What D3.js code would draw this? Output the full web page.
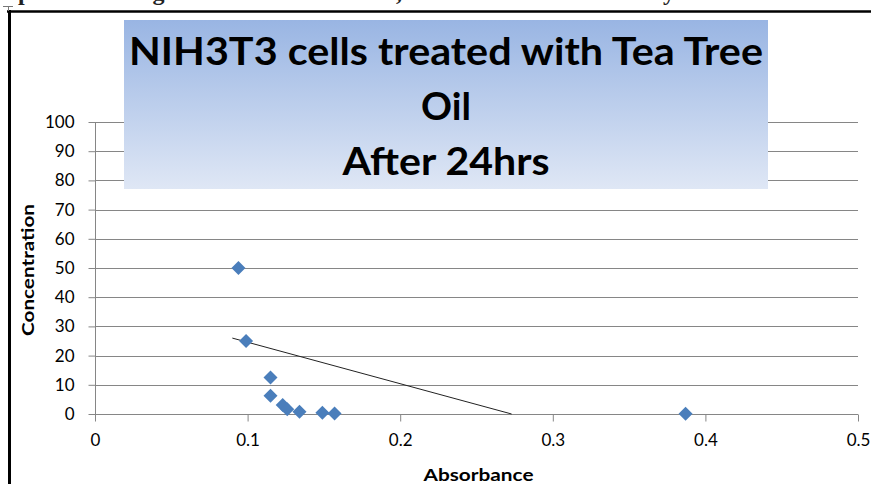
<!DOCTYPE html>
<html><head><meta charset="utf-8">
<script src="https://cdn.jsdelivr.net/npm/d3@7"></script>
<style>body{margin:0;background:#fff}svg{display:block}</style>
</head><body>
<script>
// ---- data ----
const absorbance    = [0.094, 0.099, 0.115, 0.115, 0.123, 0.126, 0.134, 0.149, 0.157, 0.387];
const concentration = [50, 25, 12.5, 6.25, 3.1, 1.6, 0.8, 0.4, 0.2, 0.1];
const trendAbs  = [0.090, 0.273];
const trendConc = [26.0, 0];
const xTicks = [0, 0.1, 0.2, 0.3, 0.4, 0.5];
const yTicks = [0, 10, 20, 30, 40, 50, 60, 70, 80, 90, 100];
const titleLines = ["NIH3T3 cells treated with Tea Tree", "Oil", "After 24hrs"];
const caption = "plot showing TTO concentration, Cell dead and viability for NIH3T3 cells";

const W = 871, H = 484;
const svg = d3.select("body").append("svg").attr("width", W).attr("height", H);
const font = "Lato, 'Open Sans', sans-serif";

// caption cut off at top
svg.append("text").attr("x", 18).attr("y", 0)
  .attr("font-family", "'Liberation Serif', serif").attr("font-weight", "bold")
  .attr("font-size", 24).attr("textLength", 860).attr("lengthAdjust", "spacing")
  .attr("fill", "#222")
  .text(caption);

// frame lines
svg.append("line").attr("x1", 7).attr("x2", W).attr("y1", 11.5).attr("y2", 11.5).attr("stroke", "#000").attr("stroke-width", 2.5);
svg.append("line").attr("x1", 9.5).attr("x2", 9.5).attr("y1", 10).attr("y2", H).attr("stroke", "#000").attr("stroke-width", 3);
svg.append("line").attr("x1", 3).attr("x2", 13).attr("y1", 6.5).attr("y2", 6.5).attr("stroke", "#777").attr("stroke-width", 1);
svg.append("line").attr("x1", 8.5).attr("x2", 8.5).attr("y1", 6).attr("y2", 11).attr("stroke", "#777").attr("stroke-width", 1);

const x = d3.scaleLinear().domain([0, 0.5]).range([95, 858]);
const y = d3.scaleLinear().domain([0, 100]).range([414, 122]);
const grid = "#868686";

// gridlines
svg.append("g").selectAll("line").data(yTicks).join("line")
  .attr("x1", x(0)).attr("x2", x(0.5))
  .attr("y1", d => Math.round(y(d)) + 0.5).attr("y2", d => Math.round(y(d)) + 0.5)
  .attr("stroke", grid).attr("stroke-width", 1);

// y axis
const yAxis = svg.append("g").attr("transform", `translate(${Math.round(x(0)) + 0.5},0)`)
  .call(d3.axisLeft(y).tickValues(yTicks).tickSize(7).tickPadding(14).tickFormat(d3.format("d")));
yAxis.select(".domain").attr("stroke", grid).attr("d", `M0,${y(100)}V${y(0) + 7}`);
yAxis.selectAll(".tick line").attr("stroke", grid);
yAxis.selectAll(".tick text").attr("font-family", font).attr("font-size", 17).attr("fill", "#000");

// x axis
const xAxis = svg.append("g").attr("transform", `translate(0,${Math.round(y(0)) + 0.5})`)
  .call(d3.axisBottom(x).tickValues(xTicks).tickSize(7).tickPadding(12).tickFormat(d => d === 0 ? "0" : d3.format(".1f")(d)));
xAxis.select(".domain").attr("stroke", grid).attr("d", `M${x(0)},0H${x(0.5)}`);
xAxis.selectAll(".tick line").attr("stroke", grid);
xAxis.selectAll(".tick text").attr("font-family", font).attr("font-size", 17).attr("fill", "#000");

// axis titles
svg.append("text").attr("x", x(0.25) + 2).attr("y", 481).attr("text-anchor", "middle")
  .attr("font-family", font).attr("font-weight", "bold").attr("font-size", 17)
  .attr("textLength", 110).attr("lengthAdjust", "spacingAndGlyphs").text("Absorbance");
svg.append("text").attr("transform", "translate(34,270) rotate(-90)").attr("text-anchor", "middle")
  .attr("font-family", font).attr("font-weight", "bold").attr("font-size", 17)
  .attr("textLength", 132).attr("lengthAdjust", "spacingAndGlyphs").text("Concentration");

// trend line
svg.append("line")
  .attr("x1", x(trendAbs[0])).attr("y1", y(trendConc[0]))
  .attr("x2", x(trendAbs[1])).attr("y2", y(trendConc[1]))
  .attr("stroke", "#222").attr("stroke-width", 1);

// points
const pts = absorbance.map((a, i) => [a, concentration[i]]);
svg.append("g").selectAll("path").data(pts).join("path")
  .attr("transform", d => `translate(${x(d[0])},${y(d[1])})`)
  .attr("d", "M0,-7L7,0L0,7L-7,0Z")
  .attr("fill", "#4a7ebb");

// title box
const defs = svg.append("defs");
const lg = defs.append("linearGradient").attr("id", "tg").attr("x1", 0).attr("x2", 0).attr("y1", 0).attr("y2", 1);
lg.append("stop").attr("offset", "0%").attr("stop-color", "#99b5e3");
lg.append("stop").attr("offset", "100%").attr("stop-color", "#dfe7f5");
svg.append("rect").attr("x", 124).attr("y", 20).attr("width", 644).attr("height", 169).attr("fill", "url(#tg)");
const widths = [634, 50, 207];
const baselines = [65, 120, 175];
titleLines.forEach((t, i) => {
  svg.append("text").attr("x", 446).attr("y", baselines[i]).attr("text-anchor", "middle")
    .attr("font-family", font).attr("font-weight", "bold").attr("font-size", 38)
    .attr("textLength", widths[i]).attr("lengthAdjust", "spacingAndGlyphs").attr("fill", "#000")
    .text(t);
});
</script>
</body></html>
